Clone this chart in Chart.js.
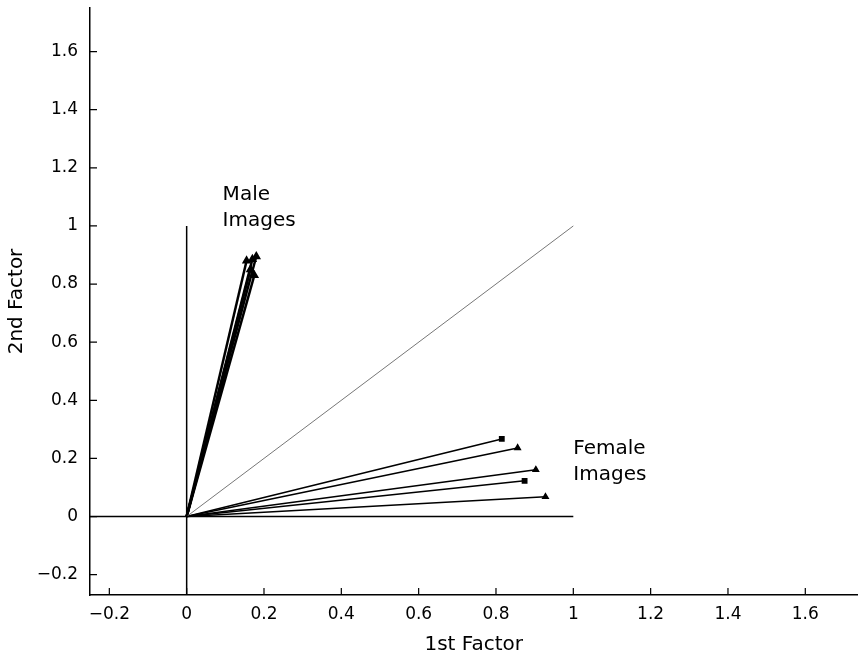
<!DOCTYPE html>
<html>
<head>
<meta charset="utf-8">
<script src="https://cdn.jsdelivr.net/npm/chart.js@4.4.1/dist/chart.umd.min.js"></script>
<style>
  body { margin: 0; background: #fff; }
  #wrap { width: 864px; height: 658px; }
</style>
</head>
<body>
<div id="wrap"><canvas id="chart" width="864" height="658"></canvas></div>
<script>
// tick values on both axes
const xTicks = [-0.2, 0, 0.2, 0.4, 0.6, 0.8, 1, 1.2, 1.4, 1.6];
const yTicks = [-0.2, 0, 0.2, 0.4, 0.6, 0.8, 1, 1.2, 1.4, 1.6];

// end points of the image vectors (all start at the origin)
const maleX = [0.155, 0.170, 0.180, 0.175, 0.165];
const maleY = [0.880, 0.885, 0.895, 0.830, 0.850];
const femaleX = [0.815, 0.856, 0.903, 0.874, 0.928];
const femaleY = [0.267, 0.236, 0.161, 0.123, 0.068];
const femaleMarks = ["rect", "triangle", "triangle", "rect", "triangle"];

// reference lines
const diagX = [0, 1], diagY = [0, 1];
const horizX = [-0.25, 1], horizY = [0, 0];
const vertX = [0, 0], vertY = [-0.3, 1];

const labels = [
    { text: ["Male", "Images"], x: 0.093, y: 1.14 },
    { text: ["Female", "Images"], x: 1.0, y: 0.268 }
];

const FONT = "'DejaVu Sans', Verdana, sans-serif";

function pts(xs, ys) {
    return xs.map((x, i) => ({ x: x, y: ys[i] }));
}

const datasets = [];
datasets.push({ data: pts(horizX, horizY), borderColor: "#000", borderWidth: 1.5, pointRadius: 0 });
datasets.push({ data: pts(vertX, vertY), borderColor: "#000", borderWidth: 1.5, pointRadius: 0 });
datasets.push({ data: pts(diagX, diagY), borderColor: "#777", borderWidth: 1, pointRadius: 0 });

maleX.forEach((x, i) => {
    datasets.push({
        data: [{ x: 0, y: 0 }, { x: x, y: maleY[i] }],
        borderColor: "#000", borderWidth: 2.5,
        pointRadius: [0, 3], pointStyle: "triangle",
        pointBackgroundColor: "#000", pointBorderColor: "#000"
    });
});
femaleX.forEach((x, i) => {
    datasets.push({
        data: [{ x: 0, y: 0 }, { x: x, y: femaleY[i] }],
        borderColor: "#000", borderWidth: 1.6,
        pointRadius: [0, 3], pointStyle: femaleMarks[i],
        pointBackgroundColor: "#000", pointBorderColor: "#000"
    });
});

function fmt(v) {
    const s = String(Math.round(v * 10) / 10);
    return s.replace("-", "\u2212");
}

// matlab style ticks pointing into the plot, plus the two group labels
const innerTicks = {
    id: "innerTicks",
    afterDraw(chart) {
        const ctx = chart.ctx;
        const xs = chart.scales.x, ys = chart.scales.y;
        const a = chart.chartArea;
        ctx.save();
        ctx.strokeStyle = "#000";
        ctx.lineWidth = 1.2;
        ctx.beginPath();
        xTicks.forEach(v => {
            const px = xs.getPixelForValue(v);
            ctx.moveTo(px, a.bottom);
            ctx.lineTo(px, a.bottom - 7);
        });
        yTicks.forEach(v => {
            const py = ys.getPixelForValue(v);
            ctx.moveTo(a.left, py);
            ctx.lineTo(a.left + 7, py);
        });
        ctx.stroke();

        ctx.fillStyle = "#000";
        ctx.font = "20px " + FONT;
        ctx.textBaseline = "top";
        labels.forEach(l => {
            const px = xs.getPixelForValue(l.x);
            const py = ys.getPixelForValue(l.y);
            l.text.forEach((t, j) => ctx.fillText(t, px, py + j * 26));
        });
        ctx.restore();
    }
};

new Chart(document.getElementById("chart").getContext("2d"), {
    type: "scatter",
    data: { datasets: datasets },
    options: {
        responsive: false,
        animation: false,
        layout: { padding: { top: 8, right: 0, left: 0, bottom: 0 } },
        elements: { line: { tension: 0 } },
        datasets: { scatter: { showLine: true } },
        plugins: { legend: { display: false }, tooltip: { enabled: false } },
        scales: {
            x: {
                type: "linear", min: -0.25, max: 1.735,
                afterBuildTicks: s => { s.ticks = xTicks.map(v => ({ value: v })); },
                afterFit: s => { s.height = 63; s.paddingRight = 0; s.paddingLeft = 0; },
                grid: { drawOnChartArea: false, drawTicks: false },
                border: { color: "#000", width: 1.5 },
                ticks: {
                    color: "#000", padding: 9, maxRotation: 0, autoSkip: false,
                    font: { size: 17, family: FONT },
                    callback: v => fmt(v)
                },
                title: {
                    display: true, text: "1st Factor", color: "#000",
                    font: { size: 20, family: FONT },
                    padding: { top: 0, bottom: 1 }
                }
            },
            y: {
                type: "linear", min: -0.27, max: 1.75,
                afterBuildTicks: s => { s.ticks = yTicks.map(v => ({ value: v })); },
                afterFit: s => { s.width = 90; s.paddingTop = 0; s.paddingBottom = 0; },
                grid: { drawOnChartArea: false, drawTicks: false },
                border: { color: "#000", width: 1.5 },
                ticks: {
                    color: "#000", padding: 12, autoSkip: false,
                    font: { size: 17, family: FONT },
                    callback: v => fmt(v)
                },
                title: {
                    display: true, text: "2nd Factor", color: "#000",
                    font: { size: 20, family: FONT },
                    padding: { top: 5, bottom: 0 }
                }
            }
        }
    },
    plugins: [innerTicks]
});
</script>
</body>
</html>
